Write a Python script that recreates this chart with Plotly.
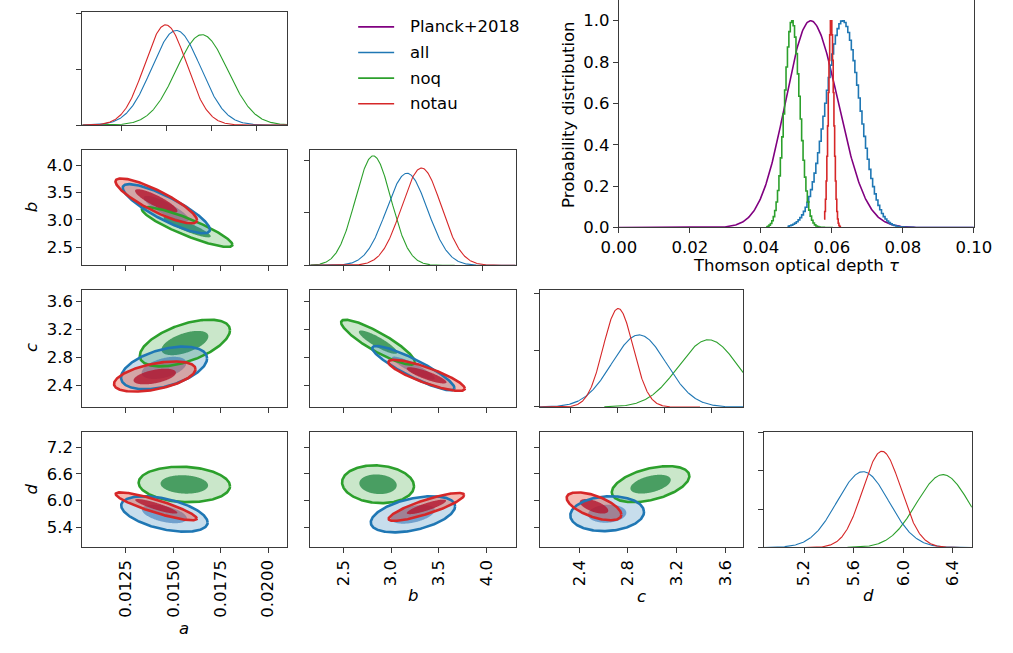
import numpy as np
import plotly.graph_objects as go

W, H = 1013, 653
FONT = "DejaVu Sans"
FS = 16.5

# ---------------- data ----------------
series = ["noq", "all", "notau"]
line_colors = {"all": "#1f77b4", "noq": "#2ca02c", "notau": "#d62728"}
fill_outer = {"all": "rgba(31,119,180,0.25)", "noq": "rgba(44,160,44,0.25)", "notau": "rgba(230,85,65,0.40)"}
fill_inner = {"all": "rgba(40,110,180,0.55)", "noq": "rgba(50,145,80,0.85)", "notau": "rgba(180,20,45,0.80)"}

# 1D marginals: mean, sigma, peak height, support (lo, hi)
marg_a = {"all": (0.01553, 0.00136, 0.848, None, None),
          "noq": (0.01696, 0.00144, 0.810, None, None),
          "notau": (0.01494, 0.00117, 0.898, None, None)}
marg_b = {"all": (3.186, 0.221, 0.876, None, None),
          "noq": (2.822, 0.192, 1.041, None, 3.70),
          "notau": (3.342, 0.214, 0.925, None, None)}
marg_c = {"all": (2.981, 0.232, 0.637, None, None),
          "noq": (3.572, 0.256, 0.594, 2.685, None),
          "notau": (2.803, 0.128, 0.870, None, 3.50)}
marg_d = {"all": (5.675, 0.209, 1.974, None, None),
          "noq": (6.320, 0.214, 1.897, 5.55, None),
          "notau": (5.828, 0.154, 2.505, 5.20, None)}

# 2D posteriors: centre x, centre y, sigma x, sigma y, correlation (95% contour extents)
cont_ab = {"all": (0.01463, 3.205, 0.00230, 0.452, -0.85),
           "noq": (0.01573, 2.869, 0.00239, 0.367, -0.89),
           "notau": (0.01410, 3.348, 0.00215, 0.413, -0.86)}
cont_ac = {"all": (0.01451, 2.646, 0.00227, 0.307, 0.45),
           "noq": (0.01561, 3.004, 0.00238, 0.336, 0.55),
           "notau": (0.01402, 2.522, 0.00215, 0.217, 0.49)}
cont_ad = {"all": (0.01453, 5.700, 0.00228, 0.397, -0.48),
           "noq": (0.01558, 6.362, 0.00241, 0.397, -0.10),
           "notau": (0.01410, 5.872, 0.00214, 0.313, -0.88)}
cont_bc = {"all": (3.233, 2.643, 0.430, 0.319, -0.90),
           "noq": (2.863, 3.016, 0.386, 0.323, -0.88),
           "notau": (3.371, 2.539, 0.400, 0.224, -0.85)}
cont_bd = {"all": (3.228, 5.693, 0.441, 0.404, 0.45),
           "noq": (2.863, 6.366, 0.376, 0.423, -0.10),
           "notau": (3.369, 5.859, 0.395, 0.313, 0.85)}
cont_cd = {"all": (2.629, 5.707, 0.303, 0.390, 0.10),
           "noq": (2.986, 6.368, 0.319, 0.404, 0.45),
           "notau": (2.521, 5.872, 0.225, 0.313, -0.60)}
INNER_SCALE = 0.52

# Thomson optical depth: mean, sigma left, sigma right, bin width (0 = smooth), lo, hi
tau_names = ["Planck+2018", "all", "noq", "notau"]
tau_colors = ["purple", "#1f77b4", "#2ca02c", "#d62728"]
tau_params = {"Planck+2018": (0.0540, 0.0071, 0.0078, 0.0, 0.0, 0.1),
              "all": (0.0631, 0.0048, 0.0048, 0.0005, 0.0475, 0.1),
              "noq": (0.0488, 0.0021, 0.0022, 0.0004, 0.0415, 0.0605),
              "notau": (0.0598, 0.00075, 0.00075, 0.0002, 0.0578, 0.0625)}

# tick labels
ticks_a = [0.0125, 0.0150, 0.0175, 0.0200]
ticks_b = [2.5, 3.0, 3.5, 4.0]
ticks_c = [2.4, 2.8, 3.2, 3.6]
ticks_d_x = [5.2, 5.6, 6.0, 6.4]
ticks_d_y = [5.4, 6.0, 6.6, 7.2]
ticks_tau = [0.0, 0.02, 0.04, 0.06, 0.08, 0.10]
ticks_prob = [0.0, 0.2, 0.4, 0.6, 0.8, 1.0]

# ---------------- layout geometry (pixels) ----------------
col_px = [(66.7, 279.0), (303.0, 516.0), (541.0, 752.0), (773.0, 989.0)]
row_px = [(12.3, 127.0), (152.3, 269.5), (294.3, 413.3), (439.0, 556.0)]
tau_px = ((623.0, 991.0), (0.0, 231.0))


def xdom(p):
    return [p[0] / W, p[1] / W]


def ydom(p):
    return [1 - p[1] / H, 1 - p[0] / H]


fig = go.Figure()
layout = {}

BASE = dict(showline=True, linecolor="#3a3a3a", linewidth=1, mirror=True,
            ticks="outside", ticklen=5, tickwidth=1, tickcolor="#3a3a3a",
            showgrid=False, zeroline=False, fixedrange=True,
            tickfont=dict(family=FONT, size=FS, color="black"))


def add_axes(k, xd, yd, xrange, yrange, xticks, yticks, xlabels=None, ylabels=None,
             xangle=-90, xmirror=True):
    xname = "xaxis" if k == 1 else f"xaxis{k}"
    yname = "yaxis" if k == 1 else f"yaxis{k}"
    xa = dict(BASE, domain=xd, range=xrange, tickvals=xticks,
              anchor=("y" if k == 1 else f"y{k}"), mirror=xmirror)
    ya = dict(BASE, domain=yd, range=yrange, tickvals=yticks,
              anchor=("x" if k == 1 else f"x{k}"))
    if xlabels is None:
        xa["showticklabels"] = False
    else:
        xa["ticktext"] = xlabels
        xa["tickangle"] = xangle
    if ylabels is None:
        ya["showticklabels"] = False
    else:
        ya["ticktext"] = ylabels
    layout[xname] = xa
    layout[yname] = ya
    return ("x" if k == 1 else f"x{k}"), ("y" if k == 1 else f"y{k}")


lab_a = ["%.4f" % v for v in ticks_a]
lab_b = ["%.1f" % v for v in ticks_b]
lab_c = ["%.1f" % v for v in ticks_c]
lab_dx = ["%.1f" % v for v in ticks_d_x]
lab_dy = ["%.1f" % v for v in ticks_d_y]

rng_a_diag, rng_a = [0.0103, 0.0217], [0.0102, 0.0210]
rng_b_diag, rng_b = [2.143, 4.357], [2.154, 4.302]
rng_c_diag, rng_c = [2.135, 3.869], [2.075, 3.748]
rng_d_diag = [4.873, 6.553]
rng_b_row, rng_c_row, rng_d_row = [2.164, 4.284], [2.084, 3.77], [4.95, 7.53]


def gauss_curve(xa, ya, marg, xr):
    for s in series:
        mu, sig, peak, lo, hi = marg[s]
        x0 = xr[0] if lo is None else max(lo, xr[0])
        x1 = xr[1] if hi is None else min(hi, xr[1])
        x = np.linspace(x0, x1, 400)
        y = peak * np.exp(-0.5 * ((x - mu) / sig) ** 2)
        fig.add_trace(go.Scatter(x=x, y=y, mode="lines", xaxis=xa, yaxis=ya,
                                 line=dict(color=line_colors[s], width=1.1),
                                 showlegend=False, hoverinfo="skip"))


def ellipse(cx, cy, sx, sy, rho, scale):
    t = np.linspace(0, 2 * np.pi, 241)
    L = np.linalg.cholesky(np.array([[sx * sx, rho * sx * sy], [rho * sx * sy, sy * sy]]))
    pts = scale * (L @ np.vstack([np.cos(t), np.sin(t)]))
    return cx + pts[0], cy + pts[1]


def contours(xa, ya, cont):
    for s in series:
        cx, cy, sx, sy, rho = cont[s]
        ex, ey = ellipse(cx, cy, sx, sy, rho, 1.0)
        fig.add_trace(go.Scatter(x=ex, y=ey, mode="none", fill="toself", fillcolor=fill_outer[s],
                                 xaxis=xa, yaxis=ya, showlegend=False, hoverinfo="skip"))
        ix, iy = ellipse(cx, cy, sx, sy, rho, INNER_SCALE)
        fig.add_trace(go.Scatter(x=ix, y=iy, mode="none", fill="toself", fillcolor=fill_inner[s],
                                 xaxis=xa, yaxis=ya, showlegend=False, hoverinfo="skip"))
    for s in series:
        cx, cy, sx, sy, rho = cont[s]
        ex, ey = ellipse(cx, cy, sx, sy, rho, 1.0)
        fig.add_trace(go.Scatter(x=ex, y=ey, mode="lines", line=dict(color=line_colors[s], width=2.6),
                                 xaxis=xa, yaxis=ya, showlegend=False, hoverinfo="skip"))


# diagonal a
xa, ya = add_axes(1, xdom(col_px[0]), ydom(row_px[0]), rng_a_diag, [0, 1.0123], ticks_a, [0, 0.5, 1.0])
gauss_curve(xa, ya, marg_a, rng_a_diag)
# a-b
xa, ya = add_axes(2, xdom(col_px[0]), ydom(row_px[1]), rng_a, rng_b_row, ticks_a, ticks_b, None, lab_b)
contours(xa, ya, cont_ab)
# diagonal b
xa, ya = add_axes(3, xdom(col_px[1]), ydom(row_px[1]), rng_b_diag, [0, 1.097], ticks_b, [0, 0.5, 1.0])
gauss_curve(xa, ya, marg_b, rng_b_diag)
# a-c
xa, ya = add_axes(4, xdom(col_px[0]), ydom(row_px[2]), rng_a, rng_c_row, ticks_a, ticks_c, None, lab_c)
contours(xa, ya, cont_ac)
# b-c
xa, ya = add_axes(5, xdom(col_px[1]), ydom(row_px[2]), rng_b, rng_c_row, ticks_b, ticks_c)
contours(xa, ya, cont_bc)
# diagonal c
xa, ya = add_axes(6, xdom(col_px[2]), ydom(row_px[2]), rng_c_diag, [0, 1.035], ticks_c, [0, 0.5, 1.0])
gauss_curve(xa, ya, marg_c, rng_c_diag)
# a-d
xa, ya = add_axes(7, xdom(col_px[0]), ydom(row_px[3]), rng_a, rng_d_row, ticks_a, ticks_d_y, lab_a, lab_dy)
contours(xa, ya, cont_ad)
# b-d
xa, ya = add_axes(8, xdom(col_px[1]), ydom(row_px[3]), rng_b, rng_d_row, ticks_b, ticks_d_y, lab_b, None)
contours(xa, ya, cont_bd)
# c-d
xa, ya = add_axes(9, xdom(col_px[2]), ydom(row_px[3]), rng_c, rng_d_row, ticks_c, ticks_d_y, lab_c, None)
contours(xa, ya, cont_cd)
# diagonal d
xa, ya = add_axes(10, xdom(col_px[3]), ydom(row_px[3]), rng_d_diag, [0, 3.0], ticks_d_x, [0, 1, 2, 3], lab_dx, None)
gauss_curve(xa, ya, marg_d, rng_d_diag)

# Thomson optical depth panel
xa, ya = add_axes(11, xdom(tau_px[0]), ydom(tau_px[1]), [0, 0.1], [0, 1.1], ticks_tau, ticks_prob,
                  ["%.2f" % v for v in ticks_tau], ["%.1f" % v for v in ticks_prob], xangle=0, xmirror=False)
for name, col in zip(tau_names, tau_colors):
    mu, sl, sr, bw, lo, hi = tau_params[name]
    if bw == 0:
        x = np.linspace(lo, hi, 500)
        sig = np.where(x < mu, sl, sr)
        y = np.exp(-0.5 * ((x - mu) / sig) ** 2)
        shape = "linear"
    else:
        edges = np.arange(lo, hi + bw / 2, bw)
        centers = edges[:-1] + bw / 2
        sig = np.where(centers < mu, sl, sr)
        vals = np.exp(-0.5 * ((centers - mu) / sig) ** 2)
        vals = vals / vals.max()
        x = edges
        y = np.append(vals, vals[-1])
        shape = "hv"
    fig.add_trace(go.Scatter(x=x, y=y, mode="lines", line=dict(color=col, width=1.6, shape=shape),
                             xaxis=xa, yaxis=ya, showlegend=False, hoverinfo="skip"))

# legend drawn as line samples with labels
shapes = []
annotations = []
leg_y = [27.3, 53.3, 79.3, 105.3]
for name, col, yy in zip(tau_names, tau_colors, leg_y):
    shapes.append(dict(type="line", xref="paper", yref="paper", x0=352.7 / W, x1=390 / W,
                       y0=1 - yy / H, y1=1 - yy / H, line=dict(color=col, width=1.6)))
    annotations.append(dict(text=name, xref="paper", yref="paper", x=404 / W, y=1 - yy / H,
                            xanchor="left", yanchor="middle", showarrow=False,
                            font=dict(family=FONT, size=FS, color="black")))


def label(text, x, y, angle=0):
    annotations.append(dict(text=text, xref="paper", yref="paper", x=x / W, y=1 - y / H,
                            xanchor="center", yanchor="middle", showarrow=False, textangle=angle,
                            font=dict(family=FONT, size=FS, color="black")))


label("<i>b</i>", 13.5, 210.5, -90)
label("<i>c</i>", 13.5, 353.5, -90)
label("<i>d</i>", 13.5, 497.0, -90)
label("<i>a</i>", 172.5, 638.0)
label("<i>b</i>", 409.5, 605.0)
label("<i>c</i>", 646.0, 606.0)
label("<i>d</i>", 881.5, 605.0)
label("Probability distribution", 571.0, 116.0, -90)
label("Thomson optical depth <i>τ</i>", 807.0, 270.0)

fig.update_layout(width=W, height=H, margin=dict(l=0, r=0, t=0, b=0),
                  paper_bgcolor="white", plot_bgcolor="white",
                  font=dict(family=FONT, size=FS, color="black"),
                  shapes=shapes, annotations=annotations, showlegend=False, **layout)

fig.write_html("out.html", config={"displayModeBar": False})
